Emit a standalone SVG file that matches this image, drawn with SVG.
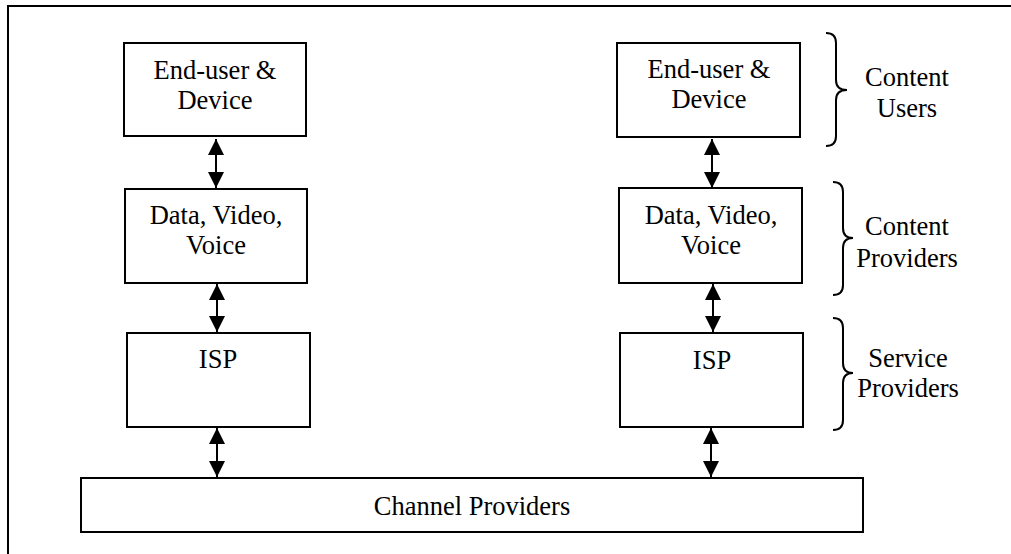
<svg xmlns="http://www.w3.org/2000/svg" width="1011" height="554" viewBox="0 0 1011 554">
<style>
.box{fill:#fff;stroke:#000;stroke-width:2}
.t{font-family:"Liberation Serif","Times New Roman",Tinos,"DejaVu Serif",serif;font-size:26.5px;fill:#000;text-anchor:middle}
.c{stroke:#000;stroke-width:2;fill:none}
.br{stroke:#000;stroke-width:2;fill:none}
</style>
<defs>
<marker id="a" viewBox="0 0 16 16" refX="16" refY="8" markerWidth="16" markerHeight="16" markerUnits="userSpaceOnUse" orient="auto-start-reverse">
<path d="M0,0 L16,8 L0,16 Z" fill="#000"/>
</marker>
</defs>
<rect width="1011" height="554" fill="#fff"/>
<path d="M8,554 L8,6 L1011,6" fill="none" stroke="#000" stroke-width="2"/>
<g id="connectors">
<line class="c" x1="216" y1="139" x2="216" y2="188" marker-start="url(#a)" marker-end="url(#a)"/>
<line class="c" x1="217" y1="284" x2="217" y2="332" marker-start="url(#a)" marker-end="url(#a)"/>
<line class="c" x1="217" y1="428" x2="217" y2="477" marker-start="url(#a)" marker-end="url(#a)"/>
<line class="c" x1="712" y1="139" x2="712" y2="188" marker-start="url(#a)" marker-end="url(#a)"/>
<line class="c" x1="713" y1="284" x2="713" y2="332" marker-start="url(#a)" marker-end="url(#a)"/>
<line class="c" x1="711" y1="428" x2="711" y2="477" marker-start="url(#a)" marker-end="url(#a)"/>
</g>
<g id="left-user"><rect class="box" x="124" y="43" width="182" height="93"/><text class="t" x="215" y="79">End-user &amp;</text><text class="t" x="215" y="109">Device</text></g>
<g id="left-data"><rect class="box" x="125" y="189" width="182" height="94"/><text class="t" x="216" y="224">Data, Video,</text><text class="t" x="216" y="254">Voice</text></g>
<g id="left-isp"><rect class="box" x="127" y="333" width="183" height="94"/><text class="t" x="218" y="368">ISP</text></g>
<g id="right-user"><rect class="box" x="617" y="43" width="183" height="94"/><text class="t" x="709" y="78">End-user &amp;</text><text class="t" x="709" y="108">Device</text></g>
<g id="right-data"><rect class="box" x="619" y="188" width="183" height="95"/><text class="t" x="711" y="224">Data, Video,</text><text class="t" x="711" y="254">Voice</text></g>
<g id="right-isp"><rect class="box" x="620" y="333" width="183" height="94"/><text class="t" x="712" y="369">ISP</text></g>
<g id="channel"><rect class="box" x="81" y="478" width="782" height="54"/><text class="t" x="472" y="515">Channel Providers</text></g>
<g id="content-users"><path class="br" d="M826,33 Q836,33 836,43 L836,80 Q836,90 847,90 Q836,90 836,100 L836,136 Q836,146 826,146"/><text class="t" x="907" y="86">Content</text><text class="t" x="907" y="117">Users</text></g>
<g id="content-providers"><path class="br" d="M833,182 Q843,182 843,192 L843,228 Q843,238 853,238 Q843,238 843,248 L843,285 Q843,295 833,295"/><text class="t" x="907" y="235">Content</text><text class="t" x="907" y="267">Providers</text></g>
<g id="service-providers"><path class="br" d="M833,318 Q843,318 843,328 L843,363 Q843,373 853,373 Q843,373 843,383 L843,420 Q843,430 833,430"/><text class="t" x="908" y="367">Service</text><text class="t" x="908" y="397">Providers</text></g>
</svg>
